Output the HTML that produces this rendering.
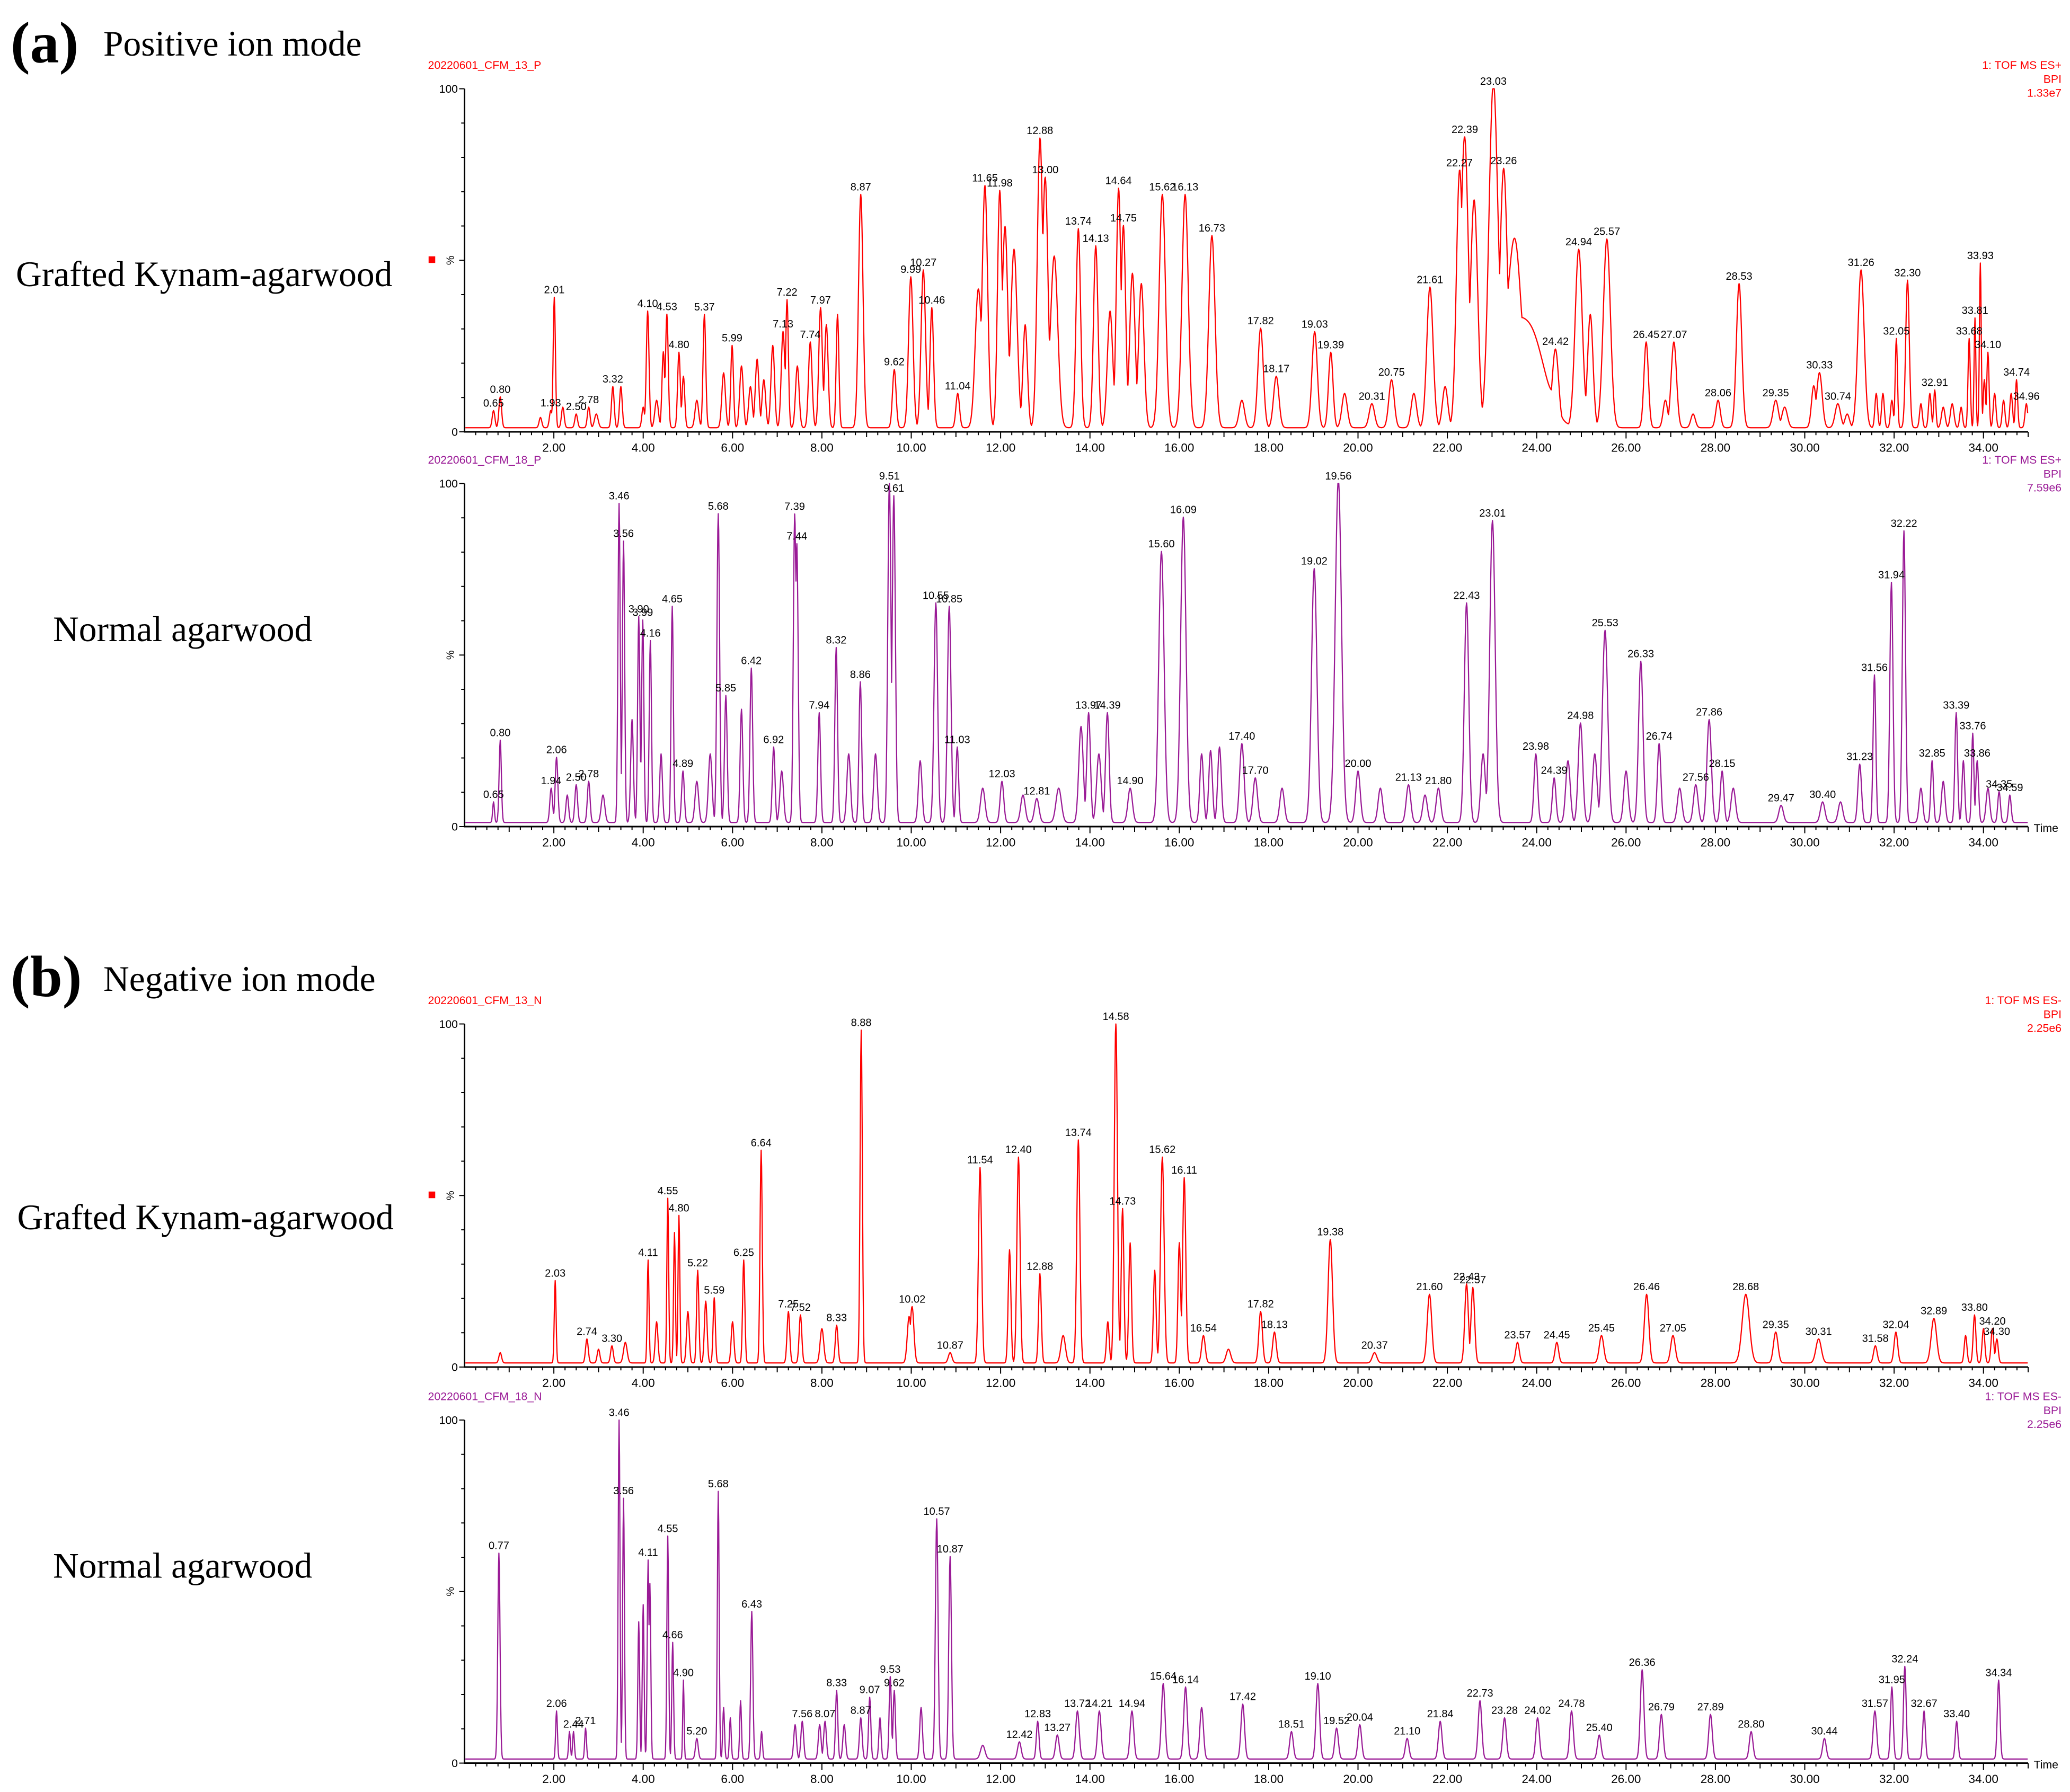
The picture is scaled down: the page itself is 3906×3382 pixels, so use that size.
<!DOCTYPE html>
<html><head><meta charset="utf-8"><style>
html,body{margin:0;padding:0;background:#fff;}
svg{display:block;}
.ser{font-family:"Liberation Serif",serif;}
.san{font-family:"Liberation Sans",sans-serif;}
</style></head><body>
<svg id="fig" xmlns="http://www.w3.org/2000/svg" width="3906" height="3382" viewBox="0 0 1562.4 1352.8">
<rect width="1562.4" height="1352.8" fill="#fff"/>
<text class="ser" x="8" y="47" font-size="44" font-weight="bold">(a)</text>
<text class="ser" x="78" y="42" font-size="27">Positive ion mode</text>
<text class="ser" x="12" y="216" font-size="27">Grafted Kynam-agarwood</text>
<text class="ser" x="40" y="484" font-size="27">Normal agarwood</text>
<text class="ser" x="8" y="752" font-size="44" font-weight="bold">(b)</text>
<text class="ser" x="78" y="748" font-size="27">Negative ion mode</text>
<text class="ser" x="13" y="928" font-size="27">Grafted Kynam-agarwood</text>
<text class="ser" x="40" y="1191" font-size="27">Normal agarwood</text>
</svg>
<script>
// Panel 1: positive, grafted (times min, heights %)
const p1Times=[0.65,0.80,1.70,1.93,2.01,2.20,2.50,2.78,2.95,3.32,3.50,4.00,4.10,4.30,4.45,4.53,4.80,4.90,5.20,5.37,5.80,5.99,6.20,6.40,6.55,6.70,6.90,7.13,7.22,7.45,7.74,7.97,8.10,8.35,8.87,9.62,9.99,10.27,10.46,11.04,11.50,11.65,11.98,12.10,12.30,12.55,12.88,13.00,13.20,13.74,14.13,14.45,14.64,14.75,14.95,15.15,15.62,16.13,16.73,17.40,17.82,18.17,19.03,19.39,19.70,20.31,20.75,21.25,21.61,21.95,22.27,22.39,22.60,23.03,23.26,23.5,23.8,24.42,24.94,25.20,25.57,26.45,26.88,27.07,27.50,28.06,28.53,29.35,29.55,30.20,30.33,30.74,30.95,31.26,31.60,31.75,31.95,32.05,32.30,32.60,32.80,32.91,33.10,33.30,33.50,33.68,33.81,33.93,34.02,34.10,34.25,34.45,34.62,34.74,34.96];
const p1Heights=[5,9,3,5,38,6,4,6,4,12,12,6,34,8,22,33,22,15,8,33,16,24,18,12,20,14,24,28,37,18,25,35,30,33,68,17,44,46,35,10,40,70,68,58,52,30,83,71,50,58,53,34,69,58,45,42,68,68,56,8,29,15,28,22,10,7,14,10,41,12,71,82,66,100,71,52,30,22,52,33,55,25,8,25,4,8,42,8,6,12,16,7,4,46,10,10,8,26,43,7,10,11,6,7,6,26,32,48,14,22,10,8,10,14,7];
const p1Widths=[0.03,0.03,0.03,0.03,0.025,0.03,0.03,0.03,0.04,0.03,0.03,0.03,0.03,0.04,0.03,0.03,0.03,0.03,0.04,0.03,0.04,0.03,0.04,0.04,0.04,0.04,0.04,0.04,0.03,0.04,0.04,0.04,0.04,0.03,0.05,0.04,0.05,0.05,0.04,0.04,0.07,0.06,0.05,0.06,0.07,0.05,0.06,0.06,0.08,0.05,0.05,0.06,0.05,0.05,0.06,0.06,0.07,0.07,0.07,0.06,0.06,0.06,0.06,0.05,0.06,0.06,0.06,0.06,0.07,0.06,0.07,0.08,0.08,0.1,0.08,0.15,0.35,0.07,0.08,0.06,0.08,0.05,0.05,0.06,0.05,0.05,0.06,0.06,0.06,0.05,0.06,0.06,0.05,0.07,0.03,0.03,0.03,0.025,0.04,0.03,0.03,0.025,0.04,0.04,0.03,0.025,0.02,0.02,0.025,0.025,0.03,0.03,0.03,0.025,0.03];
const p1Labels=[0.65,0.80,1.93,2.01,2.50,2.78,3.32,4.10,4.53,4.80,5.37,5.99,7.13,7.22,7.74,7.97,8.87,9.62,9.99,10.27,10.46,11.04,11.65,11.98,12.88,13.00,13.74,14.13,14.64,14.75,15.62,16.13,16.73,17.82,18.17,19.03,19.39,20.31,20.75,21.61,22.27,22.39,23.03,23.26,24.42,24.94,25.57,26.45,27.07,28.06,28.53,29.35,30.33,30.74,31.26,32.05,32.30,32.91,33.68,33.81,33.93,34.10,34.74,34.96];

// Panel 2: positive, normal
const p2Times=[0.65,0.80,1.94,2.06,2.30,2.50,2.78,3.10,3.46,3.56,3.75,3.90,3.99,4.16,4.40,4.65,4.89,5.20,5.50,5.68,5.85,6.20,6.42,6.92,7.10,7.39,7.44,7.94,8.32,8.60,8.86,9.20,9.51,9.61,10.20,10.55,10.85,11.03,11.60,12.03,12.50,12.81,13.30,13.80,13.97,14.20,14.39,14.90,15.60,16.09,16.50,16.70,16.90,17.40,17.70,18.30,19.02,19.56,20.00,20.50,21.13,21.50,21.80,22.43,22.80,23.01,23.98,24.39,24.70,24.98,25.30,25.53,26.00,26.33,26.74,27.20,27.56,27.86,28.15,28.40,29.47,30.40,30.80,31.23,31.56,31.94,32.22,32.60,32.85,33.10,33.39,33.55,33.76,33.86,34.10,34.35,34.59];
const p2Heights=[6,24,10,19,8,11,12,8,93,82,30,60,59,53,20,63,15,12,20,90,37,33,45,22,15,87,78,32,51,20,41,20,99,95,18,64,63,22,10,12,8,7,10,28,32,20,32,10,79,89,20,21,22,23,13,10,74,100,15,10,11,8,10,64,20,88,20,13,18,29,20,56,15,47,23,10,11,30,15,10,5,6,6,17,43,70,85,10,18,12,32,18,26,18,10,9,8];
const p2Widths=[0.02,0.025,0.03,0.03,0.03,0.03,0.03,0.04,0.025,0.025,0.03,0.025,0.025,0.025,0.03,0.025,0.03,0.04,0.04,0.03,0.03,0.03,0.03,0.03,0.04,0.03,0.03,0.03,0.03,0.04,0.03,0.04,0.035,0.035,0.04,0.04,0.04,0.03,0.05,0.04,0.05,0.05,0.06,0.05,0.04,0.05,0.04,0.05,0.06,0.06,0.04,0.04,0.04,0.05,0.05,0.05,0.06,0.07,0.05,0.05,0.05,0.05,0.05,0.05,0.05,0.06,0.04,0.04,0.05,0.05,0.05,0.06,0.05,0.05,0.04,0.05,0.05,0.05,0.04,0.05,0.05,0.05,0.05,0.04,0.03,0.035,0.035,0.04,0.03,0.04,0.03,0.03,0.025,0.03,0.04,0.03,0.03];
const p2Labels=[0.65,0.80,1.94,2.06,2.50,2.78,3.46,3.56,3.90,3.99,4.16,4.65,4.89,5.68,5.85,6.42,6.92,7.39,7.44,7.94,8.32,8.86,9.51,9.61,10.55,10.85,11.03,12.03,12.81,13.97,14.39,14.90,15.60,16.09,17.40,17.70,19.02,19.56,20.00,21.13,21.80,22.43,23.01,23.98,24.39,24.98,25.53,26.33,26.74,27.56,27.86,28.15,29.47,30.40,31.23,31.56,31.94,32.22,32.85,33.39,33.76,33.86,34.35,34.59];

// Panel 3: negative, grafted
const p3Times=[0.80,2.03,2.74,3.00,3.30,3.60,4.11,4.30,4.55,4.70,4.80,5.00,5.22,5.40,5.59,6.00,6.25,6.64,7.25,7.52,8.00,8.33,8.88,9.95,10.02,10.87,11.54,12.20,12.40,12.88,13.40,13.74,14.40,14.58,14.73,14.90,15.45,15.62,16.00,16.11,16.54,17.10,17.82,18.13,19.38,20.37,21.60,22.43,22.57,23.57,24.45,25.45,26.46,27.05,28.68,29.35,30.31,31.58,32.04,32.89,33.60,33.80,34.00,34.20,34.30];
const p3Heights=[3,24,7,4,5,6,30,12,48,38,43,15,27,18,19,12,30,62,15,14,10,11,97,13,16,3,57,33,60,26,8,65,12,100,45,35,27,60,35,54,8,4,15,9,36,3,20,23,22,6,6,8,20,8,20,9,7,5,9,13,8,14,10,10,7];
const p3Widths=[0.03,0.02,0.03,0.03,0.03,0.04,0.02,0.03,0.02,0.02,0.02,0.03,0.025,0.03,0.025,0.03,0.025,0.025,0.03,0.03,0.04,0.03,0.025,0.04,0.04,0.04,0.035,0.03,0.035,0.03,0.05,0.035,0.03,0.035,0.03,0.03,0.03,0.04,0.03,0.035,0.04,0.05,0.04,0.04,0.05,0.05,0.05,0.04,0.04,0.04,0.04,0.05,0.05,0.05,0.08,0.05,0.06,0.04,0.04,0.06,0.03,0.03,0.03,0.03,0.03];
const p3Labels=[2.03,2.74,3.30,4.11,4.55,4.80,5.22,5.59,6.25,6.64,7.25,7.52,8.33,8.88,10.02,10.87,11.54,12.40,12.88,13.74,14.58,14.73,15.62,16.11,16.54,17.82,18.13,19.38,20.37,21.60,22.43,22.57,23.57,24.45,25.45,26.46,27.05,28.68,29.35,30.31,31.58,32.04,32.89,33.80,34.20,34.30];

// Panel 4: negative, normal
const p4Times=[0.77,2.06,2.35,2.44,2.71,3.46,3.56,3.90,4.00,4.11,4.15,4.55,4.66,4.90,5.20,5.68,5.80,5.95,6.18,6.43,6.65,7.40,7.56,7.95,8.07,8.33,8.50,8.87,9.07,9.30,9.53,9.62,10.22,10.57,10.87,11.60,12.42,12.83,13.27,13.72,14.21,14.94,15.64,16.14,16.50,17.42,18.51,19.10,19.52,20.04,21.10,21.84,22.73,23.28,24.02,24.78,25.40,26.36,26.79,27.89,28.80,30.44,31.57,31.95,32.24,32.67,33.40,34.34];
const p4Heights=[60,14,8,8,9,100,76,40,45,57,50,65,34,23,6,78,15,12,17,43,8,10,11,10,11,20,10,12,18,12,24,20,15,70,59,4,5,11,7,14,14,14,22,21,15,16,8,22,9,10,6,11,17,12,12,14,7,26,13,13,8,6,14,21,27,14,11,23];
const p4Widths=[0.025,0.02,0.02,0.02,0.02,0.02,0.02,0.02,0.02,0.02,0.02,0.02,0.02,0.015,0.03,0.02,0.02,0.02,0.02,0.025,0.02,0.03,0.03,0.03,0.03,0.025,0.03,0.03,0.025,0.025,0.025,0.025,0.03,0.03,0.03,0.05,0.04,0.03,0.04,0.04,0.04,0.04,0.04,0.04,0.04,0.04,0.04,0.04,0.04,0.04,0.04,0.04,0.04,0.04,0.04,0.04,0.04,0.04,0.04,0.04,0.04,0.04,0.04,0.03,0.03,0.03,0.03,0.03];
const p4Labels=[0.77,2.06,2.44,2.71,3.46,3.56,4.11,4.55,4.66,4.90,5.20,5.68,6.43,7.56,8.07,8.33,8.87,9.07,9.53,9.62,10.57,10.87,12.42,12.83,13.27,13.72,14.21,14.94,15.64,16.14,17.42,18.51,19.10,19.52,20.04,21.10,21.84,22.73,23.28,24.02,24.78,25.40,26.36,26.79,27.89,28.80,30.44,31.57,31.95,32.24,32.67,33.40,34.34];

const tickLabels=["2.00","4.00","6.00","8.00","10.00","12.00","14.00","16.00","18.00","20.00","22.00","24.00","26.00","28.00","30.00","32.00","34.00"];
const fileNames=["20220601_CFM_13_P","20220601_CFM_18_P","20220601_CFM_13_N","20220601_CFM_18_N"];
const modeNames=["1: TOF MS ES+","1: TOF MS ES+","1: TOF MS ES-","1: TOF MS ES-"];
const scaleNames=["1.33e7","7.59e6","2.25e6","2.25e6"];

const NS="http://www.w3.org/2000/svg";
const svg=document.getElementById('fig');
const X0=350.6, PXMIN=33.72, TMAX=35;
function xs(t){return X0+t*PXMIN;}
function mk(tag,attrs,parent){const e=document.createElementNS(NS,tag);for(const k in attrs)e.setAttribute(k,attrs[k]);(parent||svg).appendChild(e);return e;}

const panels=[
 {times:p1Times,h:p1Heights,w:p1Widths,labels:p1Labels,top:67,bot:326,color:"#ff0000",time:false,marker:true},
 {times:p2Times,h:p2Heights,w:p2Widths,labels:p2Labels,top:365,bot:624,color:"#9a1a96",time:true,marker:false},
 {times:p3Times,h:p3Heights,w:p3Widths,labels:p3Labels,top:773,bot:1032,color:"#ff0000",time:false,marker:true},
 {times:p4Times,h:p4Heights,w:p4Widths,labels:p4Labels,top:1072,bot:1331,color:"#9a1a96",time:true,marker:false}
];

panels.forEach((P,pi)=>{
  const g=mk('g',{});
  
  
  const ys=v=>P.bot-(v/100)*(P.bot-P.top);
  function val(t){let m=0,s=0;for(let i=0;i<P.times.length;i++){const d=(t-P.times[i])/P.w[i];if(Math.abs(d)<6){const v=P.h[i]*Math.exp(-d*d/2);if(v>m)m=v;s+=v;}}
    const v=1.2+m+0.15*(s-m);return Math.min(v,100);}
  const fn=mk('text',{x:323,y:P.top-15,'font-size':8.5,fill:P.color,class:'san'},g);fn.textContent=fileNames[pi];
  
  
  const rt=[modeNames[pi],"BPI",scaleNames[pi]];
  rt.forEach((s,k)=>{const e=mk('text',{x:1556,y:P.top-15+k*10.5,'font-size':8.5,fill:P.color,'text-anchor':'end',class:'san'},g);e.textContent=s;
    
    });
  if(P.marker){const m=mk('rect',{x:323.5,y:(P.top+P.bot)/2-3,width:5,height:5,fill:'#ff0000'},g);
    
    }
  const ax=mk('path',{d:`M${X0} ${P.top}V${P.bot}H${xs(TMAX)}`,stroke:'#000','stroke-width':1.2,fill:'none'},g);
  
  
  let tk='';
  for(let v=0;v<=100;v+=10){tk+=`M${X0-(v%50==0?4:2.5)} ${ys(v)}H${X0}`;}
  for(let t=0.25;t<=TMAX+0.001;t+=0.25){const r=Math.round(t*100)/100;const L=(r%2==0)?5:(r%1==0?4:2.5);tk+=`M${xs(t)} ${P.bot}v${L}`;}
  mk('path',{d:tk,stroke:'#000','stroke-width':0.8,fill:'none'},g);
  [["100",100],["0",0]].forEach(([s,v])=>{const e=mk('text',{x:X0-5,y:ys(v)+3,'font-size':8.5,'text-anchor':'end',class:'san'},g);e.textContent=s;
    
    });
  const pc=mk('text',{x:0,y:0,'font-size':8,'text-anchor':'middle',class:'san',transform:`translate(${X0-8},${(P.top+P.bot)/2}) rotate(-90)`},g);pc.textContent='%';
  
  
  tickLabels.forEach(s=>{const e=mk('text',{x:xs(parseFloat(s)),y:P.bot+15,'font-size':9,'text-anchor':'middle',class:'san'},g);e.textContent=s;
    
    });
  if(P.time){const e=mk('text',{x:1535,y:P.bot+4,'font-size':8.5,class:'san'},g);e.textContent='Time';
    
    }
  let d='';
  for(let t=0.02;t<=TMAX;t+=0.01){d+=(d?'L':'M')+xs(t).toFixed(2)+' '+ys(val(t)).toFixed(2);}
  const tr=mk('path',{d:d,stroke:P.color,'stroke-width':0.9,fill:'none','stroke-linejoin':'round'},g);
  
  
  P.labels.forEach(t=>{const y=ys(val(t));const e=mk('text',{x:xs(t),y:y-3,'font-size':8,'text-anchor':'middle',class:'san'},g);e.textContent=t.toFixed(2);
    
    });
});
</script>
</body></html>
